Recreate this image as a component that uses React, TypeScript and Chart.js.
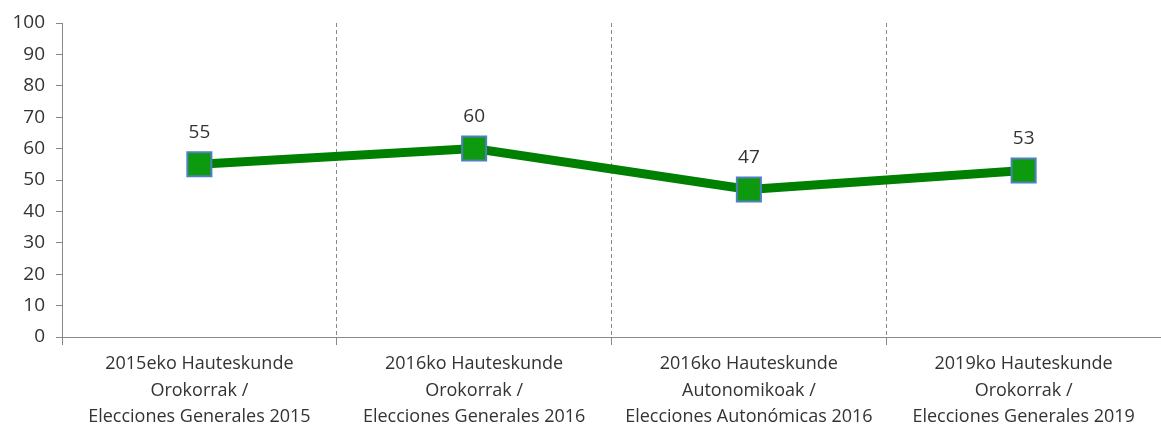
import React, { useEffect, useRef } from "react";
import { Chart, registerables } from "chart.js";

Chart.register(...registerables);

const categories: string[][] = [
  ["2015eko Hauteskunde", "Orokorrak /", "Elecciones Generales 2015"],
  ["2016ko Hauteskunde", "Orokorrak /", "Elecciones Generales 2016"],
  ["2016ko Hauteskunde", "Autonomikoak /", "Elecciones Autonómicas 2016"],
  ["2019ko Hauteskunde", "Orokorrak /", "Elecciones Generales 2019"],
];
const values: number[] = [55, 60, 47, 53];
const yTicks: number[] = [0, 10, 20, 30, 40, 50, 60, 70, 80, 90, 100];

const FONT = "'Open Sans', sans-serif";
const TEXT = "#333333";
const AXIS = "#888888";

const dataLabels = {
  id: "dataLabels",
  afterDatasetsDraw(chart: any) {
    const ctx = chart.ctx;
    const meta = chart.getDatasetMeta(0);
    ctx.save();
    ctx.font = `19px ${FONT}`;
    ctx.fillStyle = TEXT;
    ctx.textAlign = "center";
    ctx.textBaseline = "middle";
    meta.data.forEach((pt: any, i: number) => {
      ctx.fillText(String(values[i]), pt.x, pt.y - 32);
    });
    ctx.restore();
  },
};

const solidXAxis = {
  id: "solidXAxis",
  afterDraw(chart: any) {
    const { ctx, chartArea } = chart;
    ctx.save();
    ctx.strokeStyle = AXIS;
    ctx.lineWidth = 1;
    ctx.setLineDash([]);
    ctx.beginPath();
    ctx.moveTo(chartArea.left, Math.round(chartArea.bottom) + 0.5);
    ctx.lineTo(chartArea.right, Math.round(chartArea.bottom) + 0.5);
    ctx.stroke();
    ctx.restore();
  },
};

export default function App() {
  const ref = useRef<HTMLCanvasElement>(null);
  useEffect(() => {
    document.body.style.margin = "0";
    const chart = new Chart(ref.current!, {
      type: "line",
      data: {
        labels: categories,
        datasets: [
          {
            data: values,
            borderColor: "#008000",
            borderWidth: 9,
            pointStyle: "rect",
            pointRadius: 17,
            pointHoverRadius: 17,
            pointBackgroundColor: "#0e9a0e",
            pointBorderColor: "#4f7fbf",
            pointBorderWidth: 2,
            tension: 0,
          },
        ],
      },
      options: {
        animation: false,
        responsive: false,
        maintainAspectRatio: false,
        layout: { autoPadding: false, padding: { top: 23, left: 0, right: 0, bottom: 0 } },
        plugins: { legend: { display: false }, tooltip: { enabled: false } },
        scales: {
          x: {
            offset: true,
            afterFit: (s: any) => {
              s.height = 91;
              s.paddingLeft = 0;
              s.paddingRight = 0;
            },
            grid: {
              offset: true,
              display: true,
              drawOnChartArea: true,
              drawTicks: true,
              tickLength: 8,
              color: AXIS,
              lineWidth: 1,
              tickColor: AXIS,
            },
            border: { display: true, color: AXIS, width: 1, dash: [4, 3] },
            ticks: {
              color: TEXT,
              font: { family: FONT, size: 18, lineHeight: 1.47 },
              maxRotation: 0,
              autoSkip: false,
              padding: 6,
            },
          },
          y: {
            min: 0,
            max: 100,
            afterFit: (s: any) => {
              s.width = 62;
            },
            afterBuildTicks: (s: any) => {
              s.ticks = yTicks.map((v) => ({ value: v }));
            },
            grid: {
              display: true,
              drawOnChartArea: false,
              drawTicks: true,
              tickLength: 6,
              color: AXIS,
              tickColor: AXIS,
            },
            border: { display: true, color: AXIS, width: 1 },
            ticks: {
              color: TEXT,
              font: { family: FONT, size: 19 },
              padding: 11,
            },
          },
        },
      },
      plugins: [dataLabels, solidXAxis],
    } as any);
    return () => chart.destroy();
  }, []);
  return (
    <div style={{ position: "fixed", left: 0, top: 0, width: 1161, height: 428 }}>
      <canvas ref={ref} width={1161} height={428} style={{ width: 1161, height: 428 }} />
    </div>
  );
}
